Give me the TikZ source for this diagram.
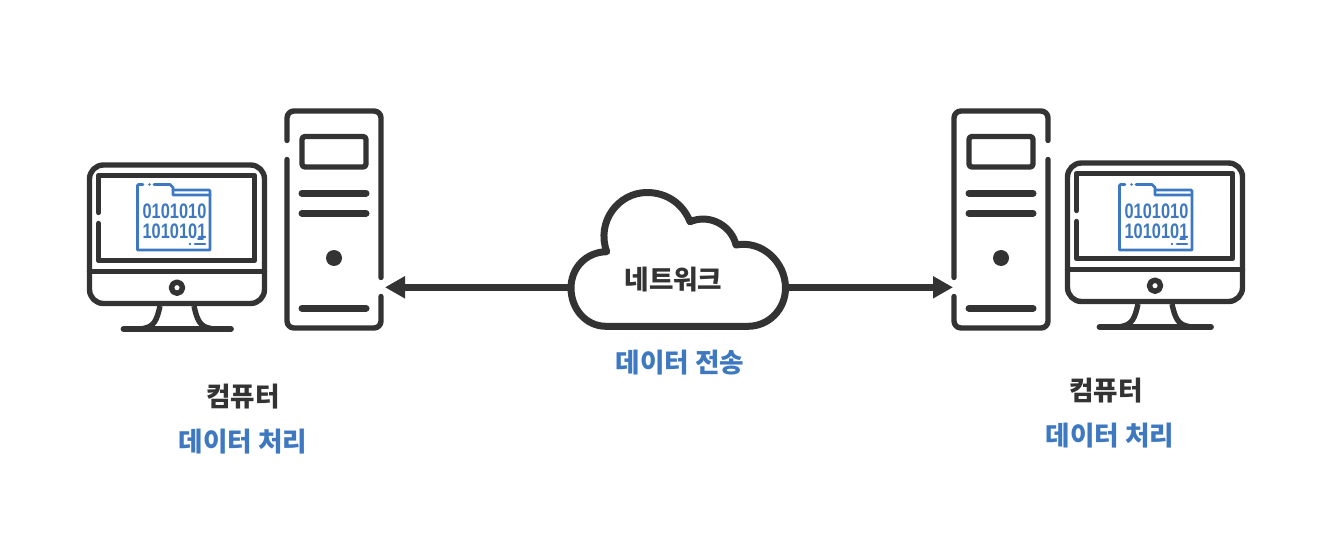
\documentclass[tikz,border=0pt]{standalone}
\usepackage{fontspec}
\setmainfont{Liberation Sans}
\newfontfamily\kr{Noto Sans CJK KR}
\usetikzlibrary{arrows.meta}
\definecolor{ink}{HTML}{333333}
\definecolor{azure}{HTML}{3D78C0}
\tikzset{
  outline/.style={draw=ink,line width=5.4pt,line cap=round,line join=round},
  bar/.style={draw=ink,line width=7pt,line cap=round},
  folderline/.style={draw=azure,line width=2.8pt,line cap=round,line join=round},
  digits/.style={text=azure,inner sep=0pt,font=\fontsize{21}{21}\selectfont\bfseries},
  dark/.style={text=ink,inner sep=0pt,font=\fontsize{26.6}{28}\selectfont\kr\bfseries},
  blue/.style={text=azure,inner sep=0pt,font=\fontsize{26.6}{28}\selectfont\kr\bfseries},
  link/.style={draw=ink,line width=6.5pt,-{Triangle[length=20pt,width=21pt]}}
}
\newcommand{\drawmonitor}[1]{%
  \draw[outline,rounded corners=14pt] (89.5,165) rectangle (264.5,303.5);
  \draw[outline] (89.5,271.7) -- (264.5,271.7);
  \draw[outline,line join=round] (98.5,212.5) -- (98.5,175.5) -- (254.5,175.5) -- (254.5,260.5) -- (98.5,260.5) -- (98.5,223.5);
  \draw[outline] (177,287.7) circle (5.6);
  \draw[outline,line cap=butt] (160,306) .. controls (157,320) and (154,327) .. (143,328.5);
  \draw[outline,line cap=butt] (194,306) .. controls (197,320) and (200,327) .. (211,328.5);
  \draw[bar,line width=5.8pt] (123.5-#1,329) -- (231+#1,329);
}
\newcommand{\drawfolder}{%
  \draw[folderline] (143,184.5) -- (138.5,184.5) -- (137.5,185.5) -- (137.5,250) -- (210,250) -- (210,191) -- (209,190) -- (173,190);
  \draw[folderline] (154,184.5) -- (170,184.5) -- (173,187.5) -- (173,195) -- (210,195);
  \fill[azure] (149.5,184.5) circle (1.4);
  \fill[azure] (190,244) circle (1.4);
  \draw[folderline] (195,244) -- (205,244);
  \draw[folderline,line width=2pt] (198,239.5) -- (203,239.5);
}
\newcommand{\drawtower}{%
  \draw[outline,rounded corners=7pt] (287,140.5) -- (287,111) -- (381,111) -- (381,277.5);
  \draw[outline,rounded corners=7pt] (381,296.5) -- (381,328) -- (287,328) -- (287,159.5);
  \draw[outline,rounded corners=3pt] (302,136.5) rectangle (366,167);
  \draw[bar] (302,193.3) -- (366,193.3);
  \draw[bar] (302,213.3) -- (366,213.3);
  \draw[bar] (302,308.3) -- (366,308.3);
  \fill[ink] (334,258) circle (8);
}
\begin{document}
\begin{tikzpicture}[x=1pt,y=-1pt]
\useasboundingbox[fill=white] (0,0) rectangle (1336,548);
% left computer
\drawmonitor{0}
\drawfolder
\node[digits] (digitsA1) at (174.5,211.7) {\scalebox{0.78}[1]{0101010}};
\node[digits] (digitsA2) at (174.5,231.7) {\scalebox{0.78}[1]{1010101}};
\drawtower
% right computer
\begin{scope}[xshift=978pt,yshift=2pt]
\drawmonitor{2}
\end{scope}
\begin{scope}[xshift=982pt]
\drawfolder
\node[digits] (digitsB1) at (174.5,211.7) {\scalebox{0.78}[1]{0101010}};
\node[digits] (digitsB2) at (174.5,231.7) {\scalebox{0.78}[1]{1010101}};
\end{scope}
\begin{scope}[xshift=1335pt,xscale=-1]
\drawtower
\end{scope}
% cloud
\draw[draw=ink,line width=7pt,line join=round,fill=white]
  (606,326.3) .. controls (586,326.3) and (571,309) .. (571,288)
  .. controls (571,268) and (586,252) .. (606.7,251.7)
  .. controls (596,222) and (618,192.5) .. (647,192.5)
  .. controls (667,192.5) and (683,204) .. (690,221.7)
  .. controls (711,213) and (732,227) .. (736,245)
  .. controls (762,240) and (785.5,262) .. (785.5,288)
  .. controls (785.5,309) and (769,326.3) .. (748,326.3)
  -- cycle;
\coordinate (towerL) at (385,287.3);
\coordinate (towerR) at (953,287.3);
\coordinate (cloudL) at (568,287.3);
\coordinate (cloudR) at (788,287.3);
\draw[link] (cloudL) -- (towerL);
\draw[link] (cloudR) -- (towerR);
% labels
\node[dark] (net) at (673.5,280) {네트워크};
\node[blue] (send) at (680,362.5) {데이터 전송};
\node[dark] (pcA) at (243,396.7) {컴퓨터};
\node[blue] (procA) at (243,441.7) {데이터 처리};
\node[dark] (pcB) at (1106,390.7) {컴퓨터};
\node[blue] (procB) at (1110,435.7) {데이터 처리};
\end{tikzpicture}
\end{document}
